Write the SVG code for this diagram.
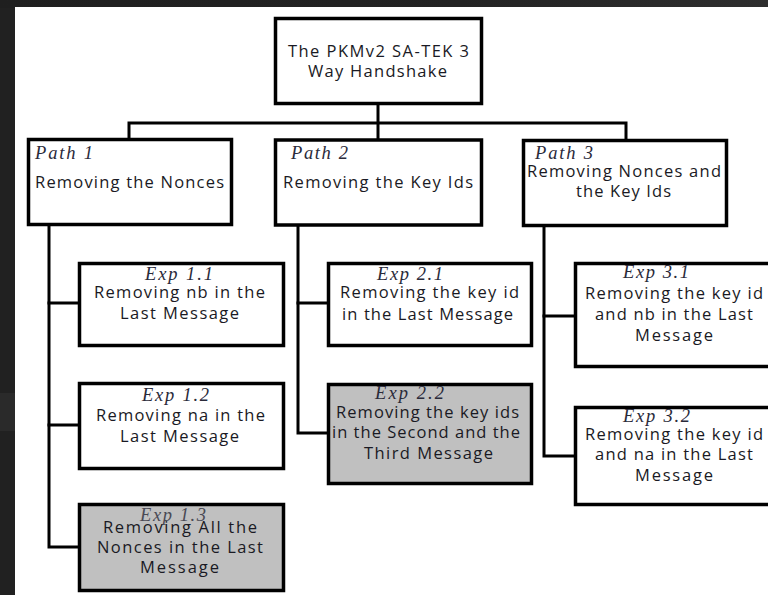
<svg xmlns="http://www.w3.org/2000/svg" width="768" height="595" viewBox="0 0 768 595">
<defs>
<linearGradient id="bgTop" x1="0" y1="0" x2="1" y2="0">
<stop offset="0" stop-color="#1f1f1f"/>
<stop offset="0.6" stop-color="#232323"/>
<stop offset="1" stop-color="#2e2e2e"/>
</linearGradient>
</defs>
<style>
.box{fill:#ffffff;stroke:#000;stroke-width:3.5}
.grey{fill:#c0c0c0}
.lbl{font-family:"Liberation Serif",serif;font-style:italic;font-size:18.5px;fill:#2a2a3a}
.t{font-family:"Open Sans","Liberation Sans",sans-serif;font-size:16.5px;font-weight:500;fill:#1a1a24}
.c{text-anchor:middle}
.conn{fill:none;stroke:#000;stroke-width:3;stroke-linejoin:miter;stroke-linecap:square}
</style>
<rect x="0" y="0" width="768" height="595" fill="#212121"/>
<rect x="0" y="0" width="768" height="8" fill="url(#bgTop)"/>
<rect x="0" y="393" width="15" height="38" fill="#2a2a2a"/>
<rect x="15" y="7" width="753" height="588" fill="#ffffff"/>

<g id="connectors">
<path class="conn" d="M378,105 V139"/>
<path class="conn" d="M129,139 V123 H626 V139"/>
<path class="conn" d="M49,226 V547 H78"/>
<path class="conn" d="M49,303 H78"/>
<path class="conn" d="M49,425 H78"/>
<path class="conn" d="M298,226 V433 H327"/>
<path class="conn" d="M298,303 H327"/>
<path class="conn" d="M544,227 V456 H574"/>
<path class="conn" d="M544,316 H574"/>
</g>

<g id="root">
<rect class="box" x="275.5" y="18.5" width="206" height="85"/>
<text class="t c" x="378.5" y="57" textLength="181" lengthAdjust="spacing">The PKMv2 SA-TEK 3</text>
<text class="t c" x="377.5" y="77" textLength="139" lengthAdjust="spacing">Way Handshake</text>
</g>

<g id="path1">
<rect class="box" x="28.5" y="139.5" width="203" height="85"/>
<text class="lbl" x="35" y="159" textLength="58" lengthAdjust="spacing">Path 1</text>
<text class="t" x="35" y="188" textLength="189" lengthAdjust="spacing">Removing the Nonces</text>
</g>

<g id="path2">
<rect class="box" x="275.5" y="140" width="206" height="85"/>
<text class="lbl" x="291" y="159" textLength="57" lengthAdjust="spacing">Path 2</text>
<text class="t" x="283" y="188" textLength="190" lengthAdjust="spacing">Removing the Key Ids</text>
</g>

<g id="path3">
<rect class="box" x="523.5" y="140.5" width="203" height="85"/>
<text class="lbl" x="535" y="159" textLength="58" lengthAdjust="spacing">Path 3</text>
<text class="t c" x="624" y="177" textLength="194" lengthAdjust="spacing">Removing Nonces  and</text>
<text class="t c" x="623.5" y="197" textLength="95" lengthAdjust="spacing">the Key Ids</text>
</g>

<g id="exp11">
<rect class="box" x="79.5" y="263.5" width="204" height="82"/>
<text class="lbl c" x="179" y="280" textLength="68" lengthAdjust="spacing">Exp 1.1</text>
<text class="t c" x="179.5" y="298" textLength="171" lengthAdjust="spacing">Removing nb in the</text>
<text class="t c" x="179.5" y="319" textLength="119" lengthAdjust="spacing">Last Message</text>
</g>

<g id="exp12">
<rect class="box" x="79.5" y="383.5" width="204" height="85"/>
<text class="lbl c" x="175.5" y="401" textLength="67" lengthAdjust="spacing">Exp 1.2</text>
<text class="t c" x="180.5" y="421" textLength="169" lengthAdjust="spacing">Removing na in the</text>
<text class="t c" x="179.5" y="442" textLength="119" lengthAdjust="spacing">Last Message</text>
</g>

<g id="exp13">
<rect class="box grey" x="79.5" y="504.5" width="204" height="86"/>
<text class="lbl c" x="173" y="521" textLength="66" lengthAdjust="spacing" style="fill:#4a4a55">Exp 1.3</text>
<text class="t c" x="180" y="533" textLength="154" lengthAdjust="spacing">Removing  All the</text>
<text class="t c" x="180" y="553" textLength="166" lengthAdjust="spacing">Nonces in  the Last</text>
<text class="t c" x="179.5" y="573" textLength="79" lengthAdjust="spacing">Message</text>
</g>

<g id="exp21">
<rect class="box" x="328.5" y="263.5" width="203" height="82"/>
<text class="lbl c" x="410" y="280" textLength="66" lengthAdjust="spacing">Exp 2.1</text>
<text class="t c" x="429.5" y="298" textLength="179" lengthAdjust="spacing">Removing the key id</text>
<text class="t c" x="427.5" y="320" textLength="171" lengthAdjust="spacing">in the Last Message</text>
</g>

<g id="exp22">
<rect class="box grey" x="328.5" y="384.5" width="203" height="99"/>
<text class="lbl c" x="409.5" y="399" textLength="69" lengthAdjust="spacing">Exp 2.2</text>
<text class="t c" x="427.5" y="418" textLength="183" lengthAdjust="spacing">Removing the key ids</text>
<text class="t c" x="426" y="438" textLength="188" lengthAdjust="spacing">in the Second  and the</text>
<text class="t c" x="428.5" y="459" textLength="129" lengthAdjust="spacing">Third Message</text>
</g>

<g id="exp31">
<rect class="box" x="575.5" y="263.5" width="206" height="103"/>
<text class="lbl c" x="656" y="278" textLength="66" lengthAdjust="spacing">Exp 3.1</text>
<text class="t c" x="674" y="299" textLength="178" lengthAdjust="spacing">Removing the key id</text>
<text class="t c" x="674" y="320" textLength="158" lengthAdjust="spacing">and nb in the Last</text>
<text class="t c" x="674" y="341" textLength="78" lengthAdjust="spacing">Message</text>
</g>

<g id="exp32">
<rect class="box" x="575.5" y="407.5" width="206" height="97"/>
<text class="lbl c" x="656.5" y="422" textLength="67" lengthAdjust="spacing">Exp 3.2</text>
<text class="t c" x="674" y="440" textLength="178" lengthAdjust="spacing">Removing the key id</text>
<text class="t c" x="674" y="460" textLength="158" lengthAdjust="spacing">and na in the Last</text>
<text class="t c" x="674" y="481" textLength="78" lengthAdjust="spacing">Message</text>
</g>
</svg>
